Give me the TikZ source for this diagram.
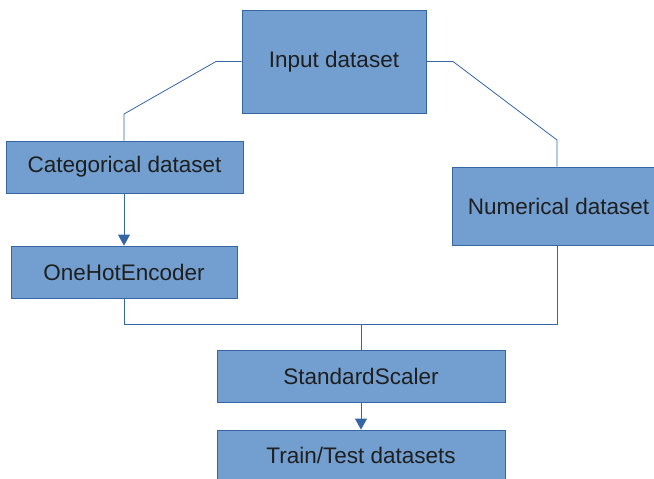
\documentclass[tikz,border=0pt]{standalone}
\usepackage{fontspec}
\setmainfont{Liberation Sans}
\usetikzlibrary{arrows.meta,calc}
\definecolor{boxfill}{HTML}{729FCF}
\definecolor{boxline}{HTML}{3465A4}
\begin{document}
\begin{tikzpicture}[x=1pt,y=1pt,
  box/.style={draw=boxline,fill=boxfill,line width=0.8pt,inner sep=0pt,
    font=\fontsize{22.5}{26}\selectfont,text=black!88},
  conn/.style={draw=boxline,line width=0.8pt},
  arr/.style={conn,-{Triangle[length=11pt,width=12pt]}}]
\useasboundingbox (0,0) rectangle (654,-479);
\node[box,minimum width=184,minimum height=103] (in) at (334,-61.5) {Input dataset};
\node[box,minimum width=237,minimum height=52] (cat) at (124.5,-167) {Categorical dataset};
\node[box,minimum width=213,minimum height=78] (num) at (558.5,-206) {Numerical dataset};
\node[box,minimum width=226,minimum height=52] (ohe) at (124,-272) {OneHotEncoder};
\node[box,minimum width=288,minimum height=52] (ss) at (361,-376) {StandardScaler};
\node[box,minimum width=288,minimum height=50] (tt) at (361,-455) {Train/Test datasets};
\coordinate (l1) at (216,-61.5);
\coordinate (l2) at (124,-114);
\coordinate (r1) at (453,-61.5);
\coordinate (r2) at (557,-140);
\coordinate (m) at (361,-324);
\draw[conn] (in.west) -- (l1) -- (l2) -- (l2 |- cat.north);
\draw[conn] (in.east) -- (r1) -- (r2) -- (r2 |- num.north);
\draw[arr] (cat.south -| l2) -- (l2 |- ohe.north);
\draw[conn] (l2 |- ohe.south) -- (l2 |- m) -- (r2 |- m) -- (r2 |- num.south);
\draw[conn] (m) -- (m |- ss.north);
\draw[arr] (ss.south) -- (tt.north);
\end{tikzpicture}
\end{document}
